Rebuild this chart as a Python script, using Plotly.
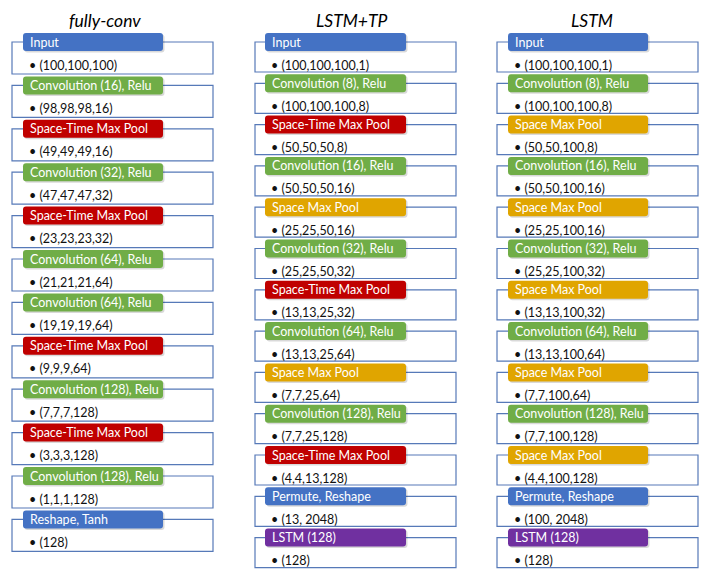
import plotly.graph_objects as go

# ---- data: layer names, output shapes and block kinds per network ----
fc_layers = ["Input", "Convolution (16), Relu", "Space-Time Max Pool", "Convolution (32), Relu",
             "Space-Time Max Pool", "Convolution (64), Relu", "Convolution (64), Relu",
             "Space-Time Max Pool", "Convolution (128), Relu", "Space-Time Max Pool",
             "Convolution (128), Relu", "Reshape, Tanh"]
fc_shapes = ["(100,100,100)", "(98,98,98,16)", "(49,49,49,16)", "(47,47,47,32)", "(23,23,23,32)",
             "(21,21,21,64)", "(19,19,19,64)", "(9,9,9,64)", "(7,7,7,128)", "(3,3,3,128)",
             "(1,1,1,128)", "(128)"]
fc_kinds = ["io", "conv", "stpool", "conv", "stpool", "conv", "conv", "stpool", "conv", "stpool",
            "conv", "io"]

tp_layers = ["Input", "Convolution (8), Relu", "Space-Time Max Pool", "Convolution (16), Relu",
             "Space Max Pool", "Convolution (32), Relu", "Space-Time Max Pool",
             "Convolution (64), Relu", "Space Max Pool", "Convolution (128), Relu",
             "Space-Time Max Pool", "Permute, Reshape", "LSTM (128)"]
tp_shapes = ["(100,100,100,1)", "(100,100,100,8)", "(50,50,50,8)", "(50,50,50,16)", "(25,25,50,16)",
             "(25,25,50,32)", "(13,13,25,32)", "(13,13,25,64)", "(7,7,25,64)", "(7,7,25,128)",
             "(4,4,13,128)", "(13, 2048)", "(128)"]
tp_kinds = ["io", "conv", "stpool", "conv", "spool", "conv", "stpool", "conv", "spool", "conv",
            "stpool", "io", "lstm"]

ls_layers = ["Input", "Convolution (8), Relu", "Space Max Pool", "Convolution (16), Relu",
             "Space Max Pool", "Convolution (32), Relu", "Space Max Pool",
             "Convolution (64), Relu", "Space Max Pool", "Convolution (128), Relu",
             "Space Max Pool", "Permute, Reshape", "LSTM (128)"]
ls_shapes = ["(100,100,100,1)", "(100,100,100,8)", "(50,50,100,8)", "(50,50,100,16)",
             "(25,25,100,16)", "(25,25,100,32)", "(13,13,100,32)", "(13,13,100,64)",
             "(7,7,100,64)", "(7,7,100,128)", "(4,4,100,128)", "(100, 2048)", "(128)"]
ls_kinds = ["io", "conv", "spool", "conv", "spool", "conv", "spool", "conv", "spool", "conv",
            "spool", "io", "lstm"]

titles = ["fully-conv", "LSTM+TP", "LSTM"]

# ---- styling ----
kind_colors = {"io": "#4472C4", "conv": "#70AD47", "stpool": "#C00000",
               "spool": "#E0A500", "lstm": "#7030A0"}
FONT = "Lato, 'Open Sans', sans-serif"
W, H = 708, 579
PAD = 8  # page body margin, so page pixels line up with data units

columns = [
    dict(layers=fc_layers, shapes=fc_shapes, kinds=fc_kinds, box_x=(12, 213), pill_x=(23, 163),
         title_x=105, top=42, step=43.4, box_h=32),
    dict(layers=tp_layers, shapes=tp_shapes, kinds=tp_kinds, box_x=(255, 456), pill_x=(265, 406),
         title_x=352, top=42, step=41.3, box_h=30),
    dict(layers=ls_layers, shapes=ls_shapes, kinds=ls_kinds, box_x=(497, 698), pill_x=(508, 648),
         title_x=592, top=42, step=41.3, box_h=30),
]


def rounded_rect(x0, y0, x1, y1, r):
    return (f"M {x0+r},{y0} L {x1-r},{y0} Q {x1},{y0} {x1},{y0+r} L {x1},{y1-r} "
            f"Q {x1},{y1} {x1-r},{y1} L {x0+r},{y1} Q {x0},{y1} {x0},{y1-r} "
            f"L {x0},{y0+r} Q {x0},{y0} {x0+r},{y0} Z")


fig = go.Figure()
shapes = []
annotations = []

for ci, col in enumerate(columns):
    bx0, bx1 = col["box_x"]
    px0, px1 = col["pill_x"]
    # column title
    annotations.append(dict(x=col["title_x"], y=20, text=f"<i>{titles[ci]}</i>", showarrow=False,
                            xanchor="center", yanchor="middle", borderpad=0,
                            font=dict(family=FONT, size=17.5, color="#000000")))
    for i, (name, shp, kind) in enumerate(zip(col["layers"], col["shapes"], col["kinds"])):
        y0 = col["top"] + i * col["step"]
        y1 = y0 + col["box_h"]
        # outer box
        shapes.append(dict(type="rect", x0=bx0, x1=bx1, y0=y0, y1=y1,
                           line=dict(color="#5679B8", width=1.2), fillcolor="white", layer="below"))
        # pill shadow
        shapes.append(dict(type="path", path=rounded_rect(px0 + 1.5, y0 - 7.5, px1 + 1.5, y0 + 10.5, 3),
                           line=dict(width=0), fillcolor="rgba(0,0,0,0.15)", layer="above"))
        # pill
        shapes.append(dict(type="path", path=rounded_rect(px0, y0 - 9, px1, y0 + 9, 3),
                           line=dict(width=0), fillcolor=kind_colors[kind], layer="above"))
        annotations.append(dict(x=px0 + 5, y=y0, text=name, showarrow=False,
                                xanchor="left", yanchor="middle",
                                font=dict(family=FONT, size=12.5, color="white")))
        annotations.append(dict(x=px0 + 4, y=y0 + 23, text="\u2022 " + shp, showarrow=False,
                                xanchor="left", yanchor="middle",
                                font=dict(family=FONT, size=12.5, color="#111111")))

fig.update_layout(
    width=W - PAD, height=H - PAD,
    margin=dict(l=0, r=0, t=0, b=0),
    paper_bgcolor="white", plot_bgcolor="white",
    xaxis=dict(range=[PAD, W], visible=False, fixedrange=True),
    yaxis=dict(range=[H, PAD], visible=False, fixedrange=True),
    shapes=shapes, annotations=annotations,
    showlegend=False,
)

fig.write_html("out.html")
